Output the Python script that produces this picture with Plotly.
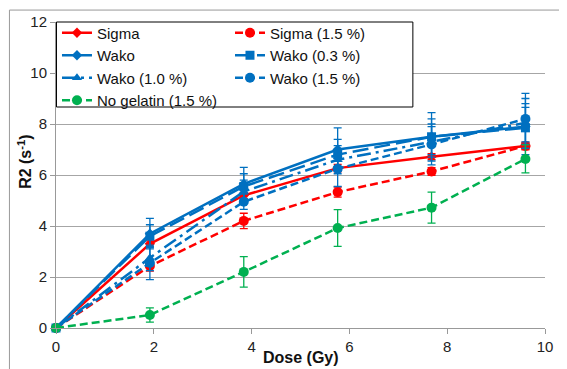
import plotly.graph_objects as go

dose = [0, 1.92, 3.84, 5.76, 7.68, 9.6]

sigma = [0, 3.3, 5.2, 6.27, 6.72, 7.14]
sigma_err = [0.05, 0.12, 0.12, 0.15, 0.12, 0.12]
sigma15 = [0, 2.43, 4.2, 5.33, 6.14, 7.14]
sigma15_err = [0.05, 0.2, 0.3, 0.2, 0.15, 0.15]
wako = [0, 3.7, 5.65, 7.0, 7.5, 7.9]
wako_err = [0.05, 0.6, 0.65, 0.85, 0.95, 1.1]
wako03 = [0, 3.6, 5.55, 6.8, 7.5, 7.85]
wako03_err = [0.05, 0.45, 0.5, 0.6, 0.7, 0.8]
wako10 = [0, 2.75, 5.35, 6.6, 7.3, 8.05]
wako10_err = [0.05, 0.5, 0.45, 0.55, 0.6, 0.75]
wako15 = [0, 2.55, 4.95, 6.25, 7.2, 8.2]
wako15_err = [0.05, 0.65, 0.3, 0.7, 0.8, 1.0]
nogel = [0, 0.51, 2.2, 3.92, 4.72, 6.63]
nogel_err = [0.05, 0.28, 0.6, 0.72, 0.61, 0.55]

RED = "#FF0000"
BLUE = "#0070C0"
GREEN = "#00B050"

series = [
    ("Sigma", sigma, sigma_err, RED, "solid", "diamond", 8),
    ("Sigma (1.5 %)", sigma15, sigma15_err, RED, "8px,4px", "circle", 10),
    ("Wako", wako, wako_err, BLUE, "solid", "diamond", 8),
    ("Wako (0.3 %)", wako03, wako03_err, BLUE, "16px,6px", "square", 9),
    ("Wako (1.0 %)", wako10, wako10_err, BLUE, "14px,5px,3px,5px", "triangle-up", 9),
    ("Wako (1.5 %)", wako15, wako15_err, BLUE, "8px,4px", "circle", 10),
    ("No gelatin (1.5 %)", nogel, nogel_err, GREEN, "8px,4px", "circle", 10),
]

fig = go.Figure()
for name, vals, err, col, dash, sym, size in series:
    fig.add_trace(go.Scatter(
        x=dose, y=vals, name=name, mode="lines+markers",
        line=dict(color=col, width=2.5, dash=dash),
        marker=dict(color=col, symbol=sym, size=size),
        error_y=dict(type="data", array=err, visible=True, color=col,
                     thickness=1.3, width=4),
        cliponaxis=False,
    ))

FONT = "Liberation Sans, Arial, sans-serif"

# page body has an 8px margin; figure is sized to fit the window
W, H = 559, 361
fig.update_layout(
    width=W, height=H,
    margin=dict(l=48, r=22, t=14, b=41, autoexpand=False),
    paper_bgcolor="white", plot_bgcolor="white",
    font=dict(family=FONT, size=15, color="#222"),
    showlegend=True,
    legend=dict(
        orientation="h", x=0.002, y=1.018, xanchor="left", yanchor="top",
        bgcolor="rgba(0,0,0,0)", borderwidth=0,
        font=dict(family=FONT, size=15, color="#111"),
        entrywidth=128, entrywidthmode="pixels",
        tracegroupgap=0, itemwidth=30,
    ),
    xaxis=dict(
        range=[0, 10], tickvals=[0, 2, 4, 6, 8, 10], automargin=False,
        showgrid=False, zeroline=False,
        showline=True, linecolor="#999", linewidth=1,
        ticks="outside", ticklen=5, tickcolor="#999",
        tickfont=dict(family=FONT, size=15, color="#222"),
    ),
    yaxis=dict(
        range=[0, 12], tickvals=[0, 2, 4, 6, 8, 10, 12], automargin=False,
        showgrid=True, gridcolor="#A6A6A6", gridwidth=1,
        zeroline=False,
        showline=True, linecolor="#999", linewidth=1,
        ticks="outside", ticklen=5, tickcolor="#999",
        tickfont=dict(family=FONT, size=15, color="#222"),
    ),
    annotations=[
        dict(text="<b>Dose (Gy)</b>", x=0.5, y=-0.095, xref="paper", yref="paper",
             showarrow=False, font=dict(family=FONT, size=16, color="#111"),
             xanchor="center", yanchor="middle"),
        dict(text="<b>R2 (s<sup>-1</sup>)</b>", x=-0.064, y=0.542, xref="paper", yref="paper",
             showarrow=False, textangle=-90, font=dict(family=FONT, size=16, color="#111"),
             xanchor="center", yanchor="middle"),
    ],
    shapes=[
        dict(type="line", xref="paper", yref="paper", x0=-0.0952, x1=1.2, y0=1.039, y1=1.039,
             line=dict(color="#999", width=1)),
        dict(type="line", xref="paper", yref="paper", x0=-0.0952, x1=-0.0952, y0=1.039, y1=-0.3,
             line=dict(color="#999", width=1)),
        # legend box
        dict(type="rect", xref="paper", yref="paper", layer="above",
             x0=0.001, x1=(413 - 8 - 48.5) / 488.5, y0=(320 - 99) / 306, y1=1.0,
             fillcolor="white", line=dict(color="black", width=1)),
    ],
)

fig.write_html("out.html")
